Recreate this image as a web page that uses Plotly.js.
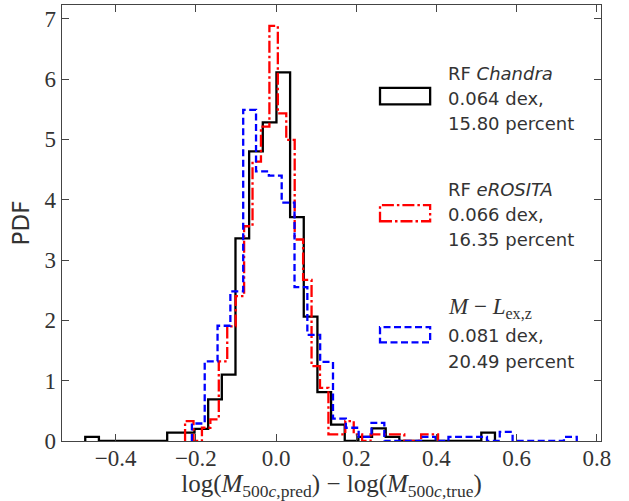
<!DOCTYPE html>
<html><head><meta charset="utf-8">
<script src="https://cdn.plot.ly/plotly-3.0.1.min.js"></script>
<style>html,body{margin:0;padding:0;background:#fff;}#plot{width:629px;height:501px;}</style>
</head><body><div id="plot"></div>
<script>
// Histogram ranges (matplotlib bins=30 between min and max of each sample)
const nBins = 30;
const chandraRange = [-0.476, 0.546];
const erositaRange = [-0.227, 0.404];
const mlRange = [-0.210, 0.750];

// PDF values per bin
const chandraPDF = [0.07,0,0,0,0,0,0.14,0.14,0.20,0.69,1.10,3.36,4.80,5.28,6.11,3.71,2.06,0.81,0.27,0,0.07,0.21,0.07,0,0,0,0,0,0,0.14];
const erositaPDF = [0.33,0,0.22,0.36,1.32,1.90,2.40,3.56,4.63,5.21,6.88,5.43,4.99,3.34,2.67,1.24,0.88,0.11,0.11,0.33,0.11,0,0.11,0.11,0.11,0.11,0,0,0.11,0.11];
const mlPDF = [0.29,1.32,1.91,2.48,5.49,4.47,4.40,3.95,2.55,1.76,1.31,0.37,0.22,0.07,0.30,0,0,0,0.07,0,0.07,0.07,0.07,0,0.15,0,0,0,0,0.07];

// Legend labels
const labels = [
  ["RF <i>Chandra</i>", "0.064 dex,", "15.80 percent"],
  ["RF <i>eROSITA</i>", "0.066 dex,", "16.35 percent"],
  ["<i>M</i> − <i>L</i><sub>ex,z</sub>", "0.081 dex,", "20.49 percent"]
];
const colors = ["#000000", "#ff0000", "#0000ff"];
const dashes = ["solid", "12px,3px,2.5px,3px", "7px,3.5px"];

const xTicks = [-0.4,-0.2,0.0,0.2,0.4,0.6,0.8];
const yTicks = [0,1,2,3,4,5,6,7];

function stepLine(range, vals) {
  const xs = [], ys = [];
  const w = (range[1]-range[0])/nBins;
  xs.push(range[0]); ys.push(0);
  for (let k=0;k<vals.length;k++){
    const a = range[0]+k*w, b = range[0]+(k+1)*w;
    xs.push(a); ys.push(vals[k]);
    xs.push(b); ys.push(vals[k]);
  }
  xs.push(range[1]); ys.push(0);
  return {x: xs, y: ys};
}

const series = [[chandraRange, chandraPDF],[erositaRange, erositaPDF],[mlRange, mlPDF]];
const traces = series.map((s,i)=>{
  const p = stepLine(s[0], s[1]);
  return {x:p.x, y:p.y, type:'scatter', mode:'lines', showlegend:false,
    line:{color:colors[i], width:2.3, dash:dashes[i]}, hoverinfo:'skip'};
});

// legend (drawn as patches + text like matplotlib)
const patchY = [[0.772,0.810],[0.504,0.541],[0.226,0.261]];
const lineY = [[0.844,0.786,0.729],[0.576,0.520,0.463],[0.305,0.243,0.183]];
const shapes = [], annotations = [];
for (let i=0;i<3;i++){
  shapes.push({type:'rect', xref:'paper', yref:'paper', x0:0.590, x1:0.683, y0:patchY[i][0], y1:patchY[i][1],
    line:{color:colors[i], width:2.3, dash:dashes[i]}, fillcolor:'rgba(0,0,0,0)'});
  for (let j=0;j<3;j++){
    const isMath = (i===2 && j===0);
    annotations.push({xref:'paper', yref:'paper', x:0.712, y:lineY[i][j], xanchor:'left', yanchor:'middle',
      text:labels[i][j], showarrow:false,
      font:{family: isMath ? 'Liberation Serif, serif' : 'DejaVu Sans, sans-serif', size: isMath ? 23 : 18, color:'#333333'}});
  }
}

const layout = {
  width:629, height:501,
  margin:{l:62, r:28, t:5, b:60},
  paper_bgcolor:'#fff', plot_bgcolor:'#fff',
  showlegend:false,
  xaxis:{range:[-0.534,0.8105], tickvals:xTicks, ticktext:xTicks.map(v=>(v<0?'−':'')+Math.abs(v).toFixed(1)),
    ticks:'inside', ticklen:7, tickwidth:1, tickcolor:'#444', ticklabelstandoff:-4,
    showline:true, linecolor:'#444', linewidth:1.3, mirror:'ticks', showgrid:false, zeroline:false,
    tickfont:{family:'Liberation Serif, serif', size:23, color:'#333'},
    title:{text:'log(<i>M</i><sub>500<i>c</i>,pred</sub>) − log(<i>M</i><sub>500<i>c</i>,true</sub>)',
      font:{family:'Liberation Serif, serif', size:25, color:'#333'}, standoff:6}},
  yaxis:{range:[0,7.227], tickvals:yTicks, ticktext:yTicks.map(String),
    ticks:'inside', ticklen:7, tickwidth:1, tickcolor:'#444',
    showline:true, linecolor:'#444', linewidth:1.3, mirror:'ticks', showgrid:false, zeroline:false,
    tickfont:{family:'Liberation Serif, serif', size:23, color:'#333'},
    title:{text:'PDF', font:{family:'DejaVu Sans, sans-serif', size:23, color:'#333'}, standoff:8}},
  shapes:shapes, annotations:annotations
};
Plotly.newPlot('plot', traces, layout, {displayModeBar:false, staticPlot:true});
</script></body></html>
